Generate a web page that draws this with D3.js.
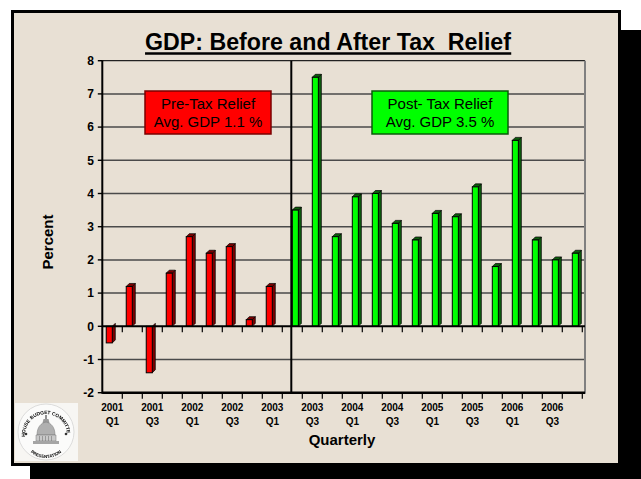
<!DOCTYPE html>
<html>
<head>
<meta charset="utf-8">
<script src="https://cdn.jsdelivr.net/npm/d3@7"></script>
<style>
  html, body { margin: 0; padding: 0; background: #ffffff; }
  svg { display: block; }
  text { font-family: "Liberation Sans", Arial, Helvetica, sans-serif; fill: #000; }
</style>
</head>
<body>
<svg id="chart" width="641" height="479"></svg>
<script>
// Quarterly real GDP growth (annualised %), 2001 Q1 – 2006 Q4
const quarters = [
  "2001 Q1", "2001 Q2", "2001 Q3", "2001 Q4",
  "2002 Q1", "2002 Q2", "2002 Q3", "2002 Q4",
  "2003 Q1", "2003 Q2", "2003 Q3", "2003 Q4",
  "2004 Q1", "2004 Q2", "2004 Q3", "2004 Q4",
  "2005 Q1", "2005 Q2", "2005 Q3", "2005 Q4",
  "2006 Q1", "2006 Q2", "2006 Q3", "2006 Q4"
];
// 2001 Q1 – 2003 Q1
const preTaxGDP = [-0.5, 1.2, -1.4, 1.6, 2.7, 2.2, 2.4, 0.2, 1.2];
// 2003 Q2 – 2006 Q4
const postTaxGDP = [3.5, 7.5, 2.7, 3.9, 4.0, 3.1, 2.6, 3.4, 3.3, 4.2, 1.8, 5.6, 2.6, 2.0, 2.2];
const seriesKeys = ["pre", "post"];
const yTicks = [-2, -1, 0, 1, 2, 3, 4, 5, 6, 7, 8];
const xTickLabels = quarters.filter(q => /Q[13]$/.test(q));

const titleText = "GDP: Before and After Tax  Relief";
const yTitle = "Percent";
const xTitle = "Quarterly";

const fmt = d3.format(".1f");
const boxes = [
  { key: "pre",  lines: ["Pre-Tax Relief",   "Avg. GDP " + fmt(d3.mean(preTaxGDP)) + " %"] },
  { key: "post", lines: ["Post- Tax Relief", "Avg. GDP " + fmt(d3.mean(postTaxGDP)) + " %"] }
];

const colors = {
  pre:  { front: "#ff0000", side: "#7a0000", border: "#7a0000" },
  post: { front: "#00ff00", side: "#0d5e0d", border: "#0b5a0b" }
};

// bar records: the pre-relief series fills the first quarters, the post-relief series the rest
const bars = [
  ...preTaxGDP.map((v, i) => ({ q: quarters[i], key: "pre", v })),
  ...postTaxGDP.map((v, i) => ({ q: quarters[preTaxGDP.length + i], key: "post", v }))
];

const svg = d3.select("#chart");

// slide frame with drop shadow
svg.append("rect").attr("x", 30).attr("y", 30).attr("width", 611).attr("height", 449).attr("fill", "#000");
svg.append("rect").attr("x", 12.5).attr("y", 11.5).attr("width", 607).attr("height", 453)
  .attr("fill", "#e8e0d4").attr("stroke", "#000").attr("stroke-width", 3);

// title
const title = svg.append("text")
  .attr("x", 328).attr("y", 50)
  .attr("text-anchor", "middle")
  .attr("xml:space", "preserve")
  .style("white-space", "pre")
  .attr("font-size", 23.2).attr("font-weight", "bold")
  .text(titleText);
const tb = title.node().getBBox();
svg.append("line")
  .attr("x1", tb.x).attr("x2", tb.x + tb.width)
  .attr("y1", 53.5).attr("y2", 53.5)
  .attr("stroke", "#000").attr("stroke-width", 2.6);

// scales
const plot = { left: 102.3, right: 582.3, border: 585, top: 60.7, bottom: 392.7 };
const y = d3.scaleLinear().domain([-2, 8]).range([plot.bottom, plot.top]);
const x0 = d3.scaleBand().domain(quarters).range([plot.left, plot.right]);
const x1 = d3.scaleBand().domain(seriesKeys).range([0, x0.bandwidth()]).paddingOuter(0.65);

// gridlines
svg.append("g").selectAll("line")
  .data(yTicks.filter(t => t > -2 && t < 8 && t !== 0))
  .join("line")
  .attr("x1", plot.left).attr("x2", plot.border)
  .attr("y1", d => y(d)).attr("y2", d => y(d))
  .attr("stroke", "#4a4a4a").attr("stroke-width", 1.5);

// top and right frame of the plot area
svg.append("line").attr("x1", plot.left).attr("x2", plot.border)
  .attr("y1", plot.top).attr("y2", plot.top).attr("stroke", "#222").attr("stroke-width", 1.2);
svg.append("line").attr("x1", plot.border).attr("x2", plot.border)
  .attr("y1", plot.top).attr("y2", plot.bottom + 1).attr("stroke", "#808080").attr("stroke-width", 2);

// 3-D bars
const depth = 3;
const bw = x1.bandwidth();
const barG = svg.append("g");
bars.forEach(b => {
  const bx = x0(b.q) + x1(b.key);
  const yTop = y(Math.max(b.v, 0));
  const yBot = y(Math.min(b.v, 0));
  const c = colors[b.key];
  const g = barG.append("g");
  // right side face
  g.append("path")
    .attr("d", `M${bx + bw},${yTop} L${bx + bw + depth},${yTop - depth} L${bx + bw + depth},${yBot - depth} L${bx + bw},${yBot} Z`)
    .attr("fill", c.side).attr("stroke", "#000").attr("stroke-width", 0.7);
  // top face (hidden behind the zero line for negative bars)
  if (b.v > 0) {
    g.append("path")
      .attr("d", `M${bx},${yTop} L${bx + depth},${yTop - depth} L${bx + bw + depth},${yTop - depth} L${bx + bw},${yTop} Z`)
      .attr("fill", c.side).attr("stroke", "#000").attr("stroke-width", 0.7);
  }
  // front face
  g.append("rect")
    .attr("x", bx).attr("y", yTop)
    .attr("width", bw).attr("height", Math.max(yBot - yTop, 0.5))
    .attr("fill", c.front).attr("stroke", "#000").attr("stroke-width", 1);
});

// zero line and bottom axis, both with category ticks
const boundaries = quarters.map((q, i) => x0(q) + x0.bandwidth());
[{ v: 0, w: 2 }, { v: -2, w: 2.6 }].forEach(a => {
  svg.append("line").attr("x1", plot.left).attr("x2", plot.border)
    .attr("y1", y(a.v)).attr("y2", y(a.v)).attr("stroke", "#000").attr("stroke-width", a.w);
  svg.append("g").selectAll("line").data(boundaries).join("line")
    .attr("x1", d => d).attr("x2", d => d)
    .attr("y1", y(a.v)).attr("y2", y(a.v) + 6)
    .attr("stroke", "#000").attr("stroke-width", 1.2);
});

// left axis
svg.append("line").attr("x1", plot.left).attr("x2", plot.left)
  .attr("y1", plot.top - 0.5).attr("y2", plot.bottom + 1).attr("stroke", "#000").attr("stroke-width", 2);
const yAxisG = svg.append("g");
yAxisG.selectAll("line").data(yTicks).join("line")
  .attr("x1", plot.left - 4.5).attr("x2", plot.left)
  .attr("y1", d => y(d)).attr("y2", d => y(d))
  .attr("stroke", "#000").attr("stroke-width", 1.4);
yAxisG.selectAll("text").data(yTicks).join("text")
  .attr("x", 94).attr("y", d => y(d) + 4.3)
  .attr("text-anchor", "end")
  .attr("font-size", 12).attr("font-weight", "bold")
  .text(d => d);

// divider between the two periods
const divX = x0(quarters[preTaxGDP.length]) + x1("post") - 1;
svg.append("line").attr("x1", divX).attr("x2", divX)
  .attr("y1", plot.top).attr("y2", plot.bottom).attr("stroke", "#000").attr("stroke-width", 2);

// category labels
const xl = svg.append("g");
xTickLabels.forEach(q => {
  const [yr, qt] = q.split(" ");
  const cx = x0(q) + x0.bandwidth() / 2;
  xl.append("text").attr("x", cx).attr("y", 410.5).attr("text-anchor", "middle")
    .attr("font-size", 10).attr("font-weight", "bold").attr("fill", "#111").text(yr);
  xl.append("text").attr("x", cx).attr("y", 425).attr("text-anchor", "middle")
    .attr("font-size", 10).attr("font-weight", "bold").attr("fill", "#111").text(qt);
});

// axis titles
svg.append("text").attr("x", 342).attr("y", 444.5).attr("text-anchor", "middle")
  .attr("font-size", 15).attr("font-weight", "bold").text(xTitle);
svg.append("text").attr("transform", "translate(52.5,242) rotate(-90)")
  .attr("text-anchor", "middle").attr("font-size", 15).attr("font-weight", "bold").text(yTitle);

// period annotation boxes
const boxPos = { pre: { x: 145, y: 91, w: 126, h: 43 }, post: { x: 372, y: 91, w: 136, h: 43 } };
boxes.forEach(b => {
  const p = boxPos[b.key];
  svg.append("rect").attr("x", p.x).attr("y", p.y).attr("width", p.w).attr("height", p.h)
    .attr("fill", colors[b.key].front).attr("stroke", colors[b.key].border).attr("stroke-width", 1.5);
  b.lines.forEach((t, i) => {
    svg.append("text").attr("x", p.x + p.w / 2).attr("y", p.y + 17.5 + i * 18.5)
      .attr("text-anchor", "middle").attr("font-size", 15).attr("fill", "#1a1a1a")
      .attr("xml:space", "preserve").style("white-space", "pre").text(t);
  });
});

// committee seal, bottom left
const defs = svg.append("defs");
defs.append("filter").attr("id", "soft").append("feGaussianBlur").attr("stdDeviation", 0.6);
defs.append("path").attr("id", "sealTop").attr("d", "M-21,3 A21,21 0 1,1 21,3");
defs.append("path").attr("id", "sealBot").attr("d", "M-24,2 A24,24 0 0,0 24,2");
svg.append("rect").attr("x", 15).attr("y", 403).attr("width", 63).attr("height", 58).attr("fill", "#f7f6f3");
const seal = svg.append("g").attr("transform", "translate(46,432)").attr("filter", "url(#soft)");
seal.append("circle").attr("r", 28).attr("fill", "#fbfbfa").attr("stroke", "#c8c8c8").attr("stroke-width", 0.6);
seal.append("text").attr("font-size", 4.8).attr("font-weight", "bold").attr("fill", "#7a7a7a")
  .append("textPath").attr("href", "#sealTop").attr("startOffset", "50%").attr("text-anchor", "middle")
  .text("HOUSE BUDGET COMMITTEE");
seal.append("text").attr("font-size", 4.4).attr("font-weight", "bold").attr("fill", "#8a8a8a")
  .append("textPath").attr("href", "#sealBot").attr("startOffset", "50%").attr("text-anchor", "middle")
  .text("PRESENTATION");
seal.append("circle").attr("cx", -20).attr("cy", 2).attr("r", 1.3).attr("fill", "#333");
seal.append("circle").attr("cx", 20).attr("cy", 2).attr("r", 1.3).attr("fill", "#333");
// dome
seal.append("path").attr("d", "M-0.8,-17 L0.8,-17 L0.8,-13 L-0.8,-13 Z").attr("fill", "#777");
seal.append("path").attr("d", "M-2.5,-13 L2.5,-13 L3.5,-9 L-3.5,-9 Z").attr("fill", "#9a9a9a");
seal.append("path").attr("d", "M-9,3 C-9,-5 -5,-9 0,-10 C5,-9 9,-5 9,3 Z").attr("fill", "#b0b0b0").attr("stroke", "#777").attr("stroke-width", 0.5);
seal.append("path").attr("d", "M-10,3 L10,3 L10,9 L-10,9 Z").attr("fill", "#c9c9c9").attr("stroke", "#777").attr("stroke-width", 0.5);
seal.append("path").attr("d", "M-13,9 L13,9 L13,12 L-13,12 Z").attr("fill", "#a5a5a5");
[-7, -4, -1, 2, 5].forEach(px => {
  seal.append("line").attr("x1", px + 0.5).attr("x2", px + 0.5).attr("y1", 4).attr("y2", 9)
    .attr("stroke", "#777").attr("stroke-width", 0.6);
});
</script>
</body>
</html>
